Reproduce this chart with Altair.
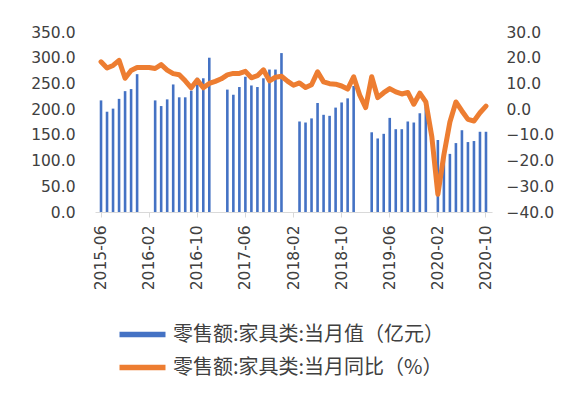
import altair as alt
import pandas as pd

# categories: months 2015-06 .. 2020-10
months = [str(p) for p in pd.period_range("2015-06", "2020-10", freq="M")]

# 零售额:家具类:当月值（亿元） (None = no value published)
bar_values = [
    217, 195, 201, 220, 235, 239, 268,                                  # 2015-06..12
    None, None, 217, 206, 219, 248, 223, 223, 236, 261, 260, 300,        # 2016
    None, None, 238, 228, 243, 263, 246, 243, 260, 277, 277, 309,        # 2017
    None, None, 176, 174, 182, 212, 189, 187, 203, 213, 221, 245,        # 2018
    None, None, 155, 143, 152, 183, 161, 161, 176, 174, 192, 205,        # 2019
    None, 140, 110, 113, 134, 159, 136, 138, 156, 156,                   # 2020-01..10
]

# 零售额:家具类:当月同比（%）
yoy_values = [
    18.4, 16.0, 17.0, 19.0, 12.0, 15.0, 16.2,
    16.2, 16.2, 15.8, 17.3, 15.2, 13.8, 13.4, 11.0, 8.3, 11.3, 8.3, 10.0,
    10.8, 11.8, 13.3, 13.9, 13.9, 14.7, 12.2, 13.0, 15.3, 11.0, 12.4, 12.8,
    10.9, 9.3, 10.2, 8.4, 9.5, 14.5, 10.6, 9.9, 9.7, 9.0, 7.8, 12.6,
    5.5, 0.6, 12.6, 4.5, 6.4, 8.0, 6.7, 5.9, 6.5, 1.9, 6.2, 2.8,
    -10.8, -33.1, -17.8, -5.0, 2.8, -0.7, -4.0, -4.6, -1.4, 1.2,
]

label_ticks = ["2015-06", "2016-02", "2016-10", "2017-06", "2018-02",
               "2018-10", "2019-06", "2020-02", "2020-10"]
left_ticks = [0, 50, 100, 150, 200, 250, 300, 350]
right_ticks = [-40, -30, -20, -10, 0, 10, 20, 30]

bar_name = "零售额:家具类:当月值（亿元）"
line_name = "零售额:家具类:当月同比（%）"
BLUE = "#4472C4"
ORANGE = "#ED7D31"
TEXT = "#404040"
FONT = "DejaVu Sans"

df = pd.DataFrame({"month": months, "value": bar_values, "yoy": yoy_values})
df["series"] = line_name

x = alt.X(
    "month:O",
    sort=months,
    title=None,
    scale=alt.Scale(paddingInner=0, paddingOuter=0.5),
    axis=alt.Axis(
        values=label_ticks, labelAngle=-90, labelFont=FONT, labelFontSize=15.5,
        labelColor=TEXT, labelPadding=8, domainColor="#d9d9d9", tickColor="#d9d9d9",
        tickSize=5, labelBaseline="middle", labelAlign="right",
    ),
)

bars = alt.Chart(df).transform_filter("datum.value != null").mark_bar(
    size=2.6, color=BLUE
).encode(
    x=x,
    y=alt.Y(
        "value:Q",
        title=None,
        scale=alt.Scale(domain=[0, 350], nice=False),
        axis=alt.Axis(
            values=left_ticks, format=".1f", orient="left", grid=False, domain=False,
            ticks=False, labelFont=FONT, labelFontSize=15.5, labelColor=TEXT,
            labelPadding=20,
        ),
    ),
)

line = alt.Chart(df).mark_line(strokeWidth=5, strokeJoin="round", strokeCap="round").encode(
    x=x,
    y=alt.Y(
        "yoy:Q",
        title=None,
        scale=alt.Scale(domain=[-40, 30], nice=False),
        axis=alt.Axis(
            values=right_ticks, format=".1f", orient="right", grid=False, domain=False,
            ticks=False, labelFont=FONT, labelFontSize=15.5, labelColor=TEXT,
            labelPadding=14,
        ),
    ),
    color=alt.Color(
        "series:N",
        scale=alt.Scale(domain=[bar_name, line_name], range=[BLUE, ORANGE]),
        legend=alt.Legend(
            title=None, orient="none", legendX=37, legendY=292, direction="vertical",
            symbolType="M-3,0H3", symbolSize=235, symbolStrokeWidth=5.5,
            labelFont="Noto Sans CJK SC", labelFontSize=20, labelColor=TEXT,
            rowPadding=10, labelOffset=20, labelLimit=400,
        ),
    ),
)

chart = alt.layer(bars, line).resolve_scale(y="independent").properties(
    width=397,
    height=180,
    autosize=alt.AutoSizeParams(type="none"),
    padding={"left": 87, "top": 24, "right": 70, "bottom": 170},
).configure_view(stroke=None)

chart.save("out.html", embed_options={"renderer": "svg", "actions": False})
